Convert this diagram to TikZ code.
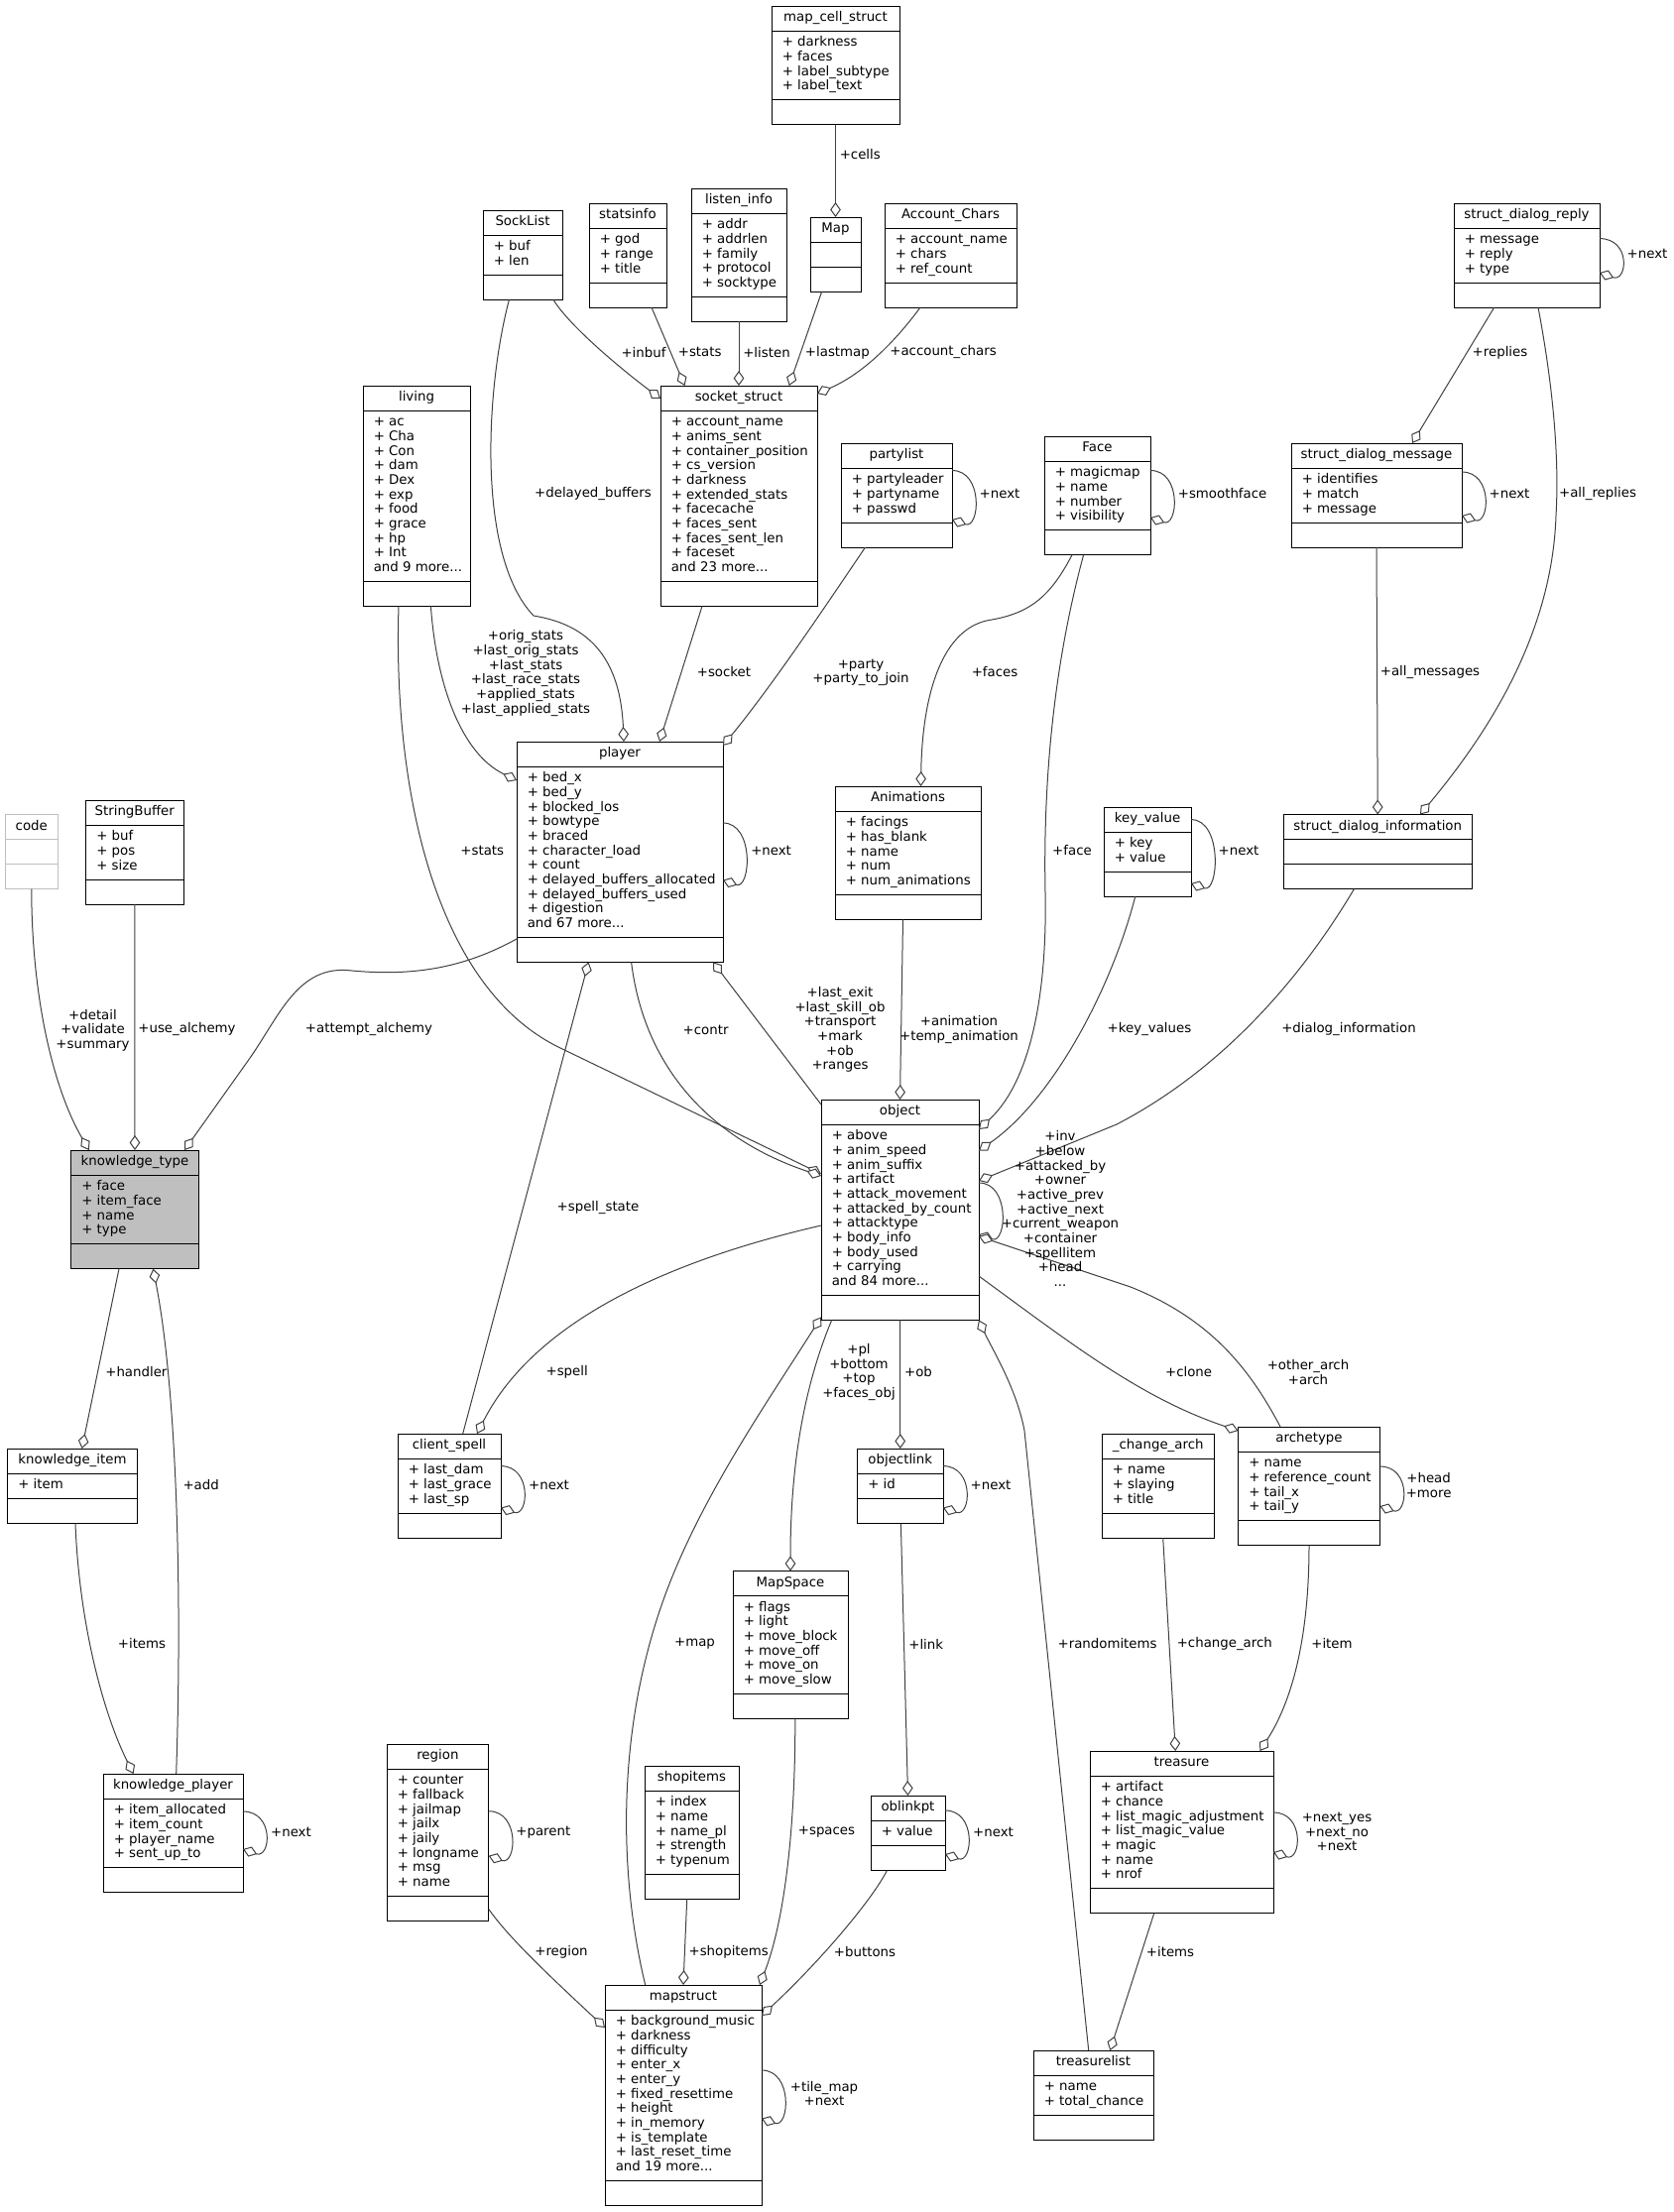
\documentclass[tikz,border=0pt]{standalone}
\usepackage{fontspec}
\setmainfont{DejaVu Sans}
\usepackage[dvipsnames,rgb]{xcolor}
\usepackage{tikz}
\usetikzlibrary{arrows.meta}

\definecolor{edgegray}{HTML}{404040}
\definecolor{grey75}{HTML}{BFBFBF}

\tikzset{
  classframe/.style={draw=black, fill=white, line width=0.75pt, inner sep=0pt, outer sep=0pt},
  classtext/.style={inner sep=0pt, font=\fontsize{10}{11}\selectfont},
  rel/.style={draw=edgegray, line width=0.75pt, -{Diamond[fill=white, length=11.25pt, width=8pt]}},
  lbl/.style={inner sep=0pt, align=center, font=\fontsize{10}{11}\selectfont},
}

\newcommand{\mdots}{...}
% #1 extra style, #2 name, #3 north west corner, #4 width, #5 title, #6 members, #7 number of members
\newcommand{\classbox}[7][]{%
  \pgfmathsetmacro{\attrh}{max(25,#7*14.67+11)}%
  \node[classframe, #1, minimum width=#4*0.75pt, minimum height={(50+\attrh)*0.75pt}, anchor=north west] (#2) at (#3) {};
  \draw[classframe, #1, fill=none] ([shift={(0,25)}]#2.north west) -- ([shift={(0,25)}]#2.north east)
    ([shift={(0,{25+\attrh})}]#2.north west) -- ([shift={(0,{25+\attrh})}]#2.north east);
  \node[classtext, anchor=base] (#2-title) at ([shift={(0,15.7)}]#2.north) {#5};
  \foreach \fld [count=\i] in {#6} {
    \pgfmathsetmacro{\fy}{40.7+(\i-1)*14.67}
    \node[classtext, anchor=base west] (#2-\i) at ([shift={(10.5,\fy)}]#2.north west) {\fld};
  }%
}

\begin{document}
\begin{tikzpicture}[x=0.75pt, y=-0.75pt]
  \useasboundingbox (0,0) rectangle (1688,2231);

  % classes
  \classbox{mapcell}{778,6}{129}{map\_cell\_struct}{+ darkness, + faces, + label\_subtype, + label\_text}{4}
  \classbox{socklist}{487,212}{80}{SockList}{+ buf, + len}{2}
  \classbox{statsinfo}{594,205}{78}{statsinfo}{+ god, + range, + title}{3}
  \classbox{listeninfo}{697,190}{96}{listen\_info}{+ addr, + addrlen, + family, + protocol, + socktype}{5}
  \classbox{map}{817,219}{51}{Map}{}{0}
  \classbox{accchars}{892,205}{133}{Account\_Chars}{+ account\_name, + chars, + ref\_count}{3}
  \classbox{sdreply}{1466,205}{147}{struct\_dialog\_reply}{+ message, + reply, + type}{3}
  \classbox{living}{366,389}{108}{living}{+ ac, + Cha, + Con, + dam, + Dex, + exp, + food, + grace, + hp, + Int, and 9 more\mdots}{11}
  \classbox{socket}{666,389}{158}{socket\_struct}{+ account\_name, + anims\_sent, + container\_position, + cs\_version, + darkness, + extended\_stats, + facecache, + faces\_sent, + faces\_sent\_len, + faceset, and 23 more\mdots}{11}
  \classbox{partylist}{848,447}{112}{partylist}{+ partyleader, + partyname, + passwd}{3}
  \classbox{face}{1053,440}{107}{Face}{+ magicmap, + name, + number, + visibility}{4}
  \classbox{sdmessage}{1302,447}{172}{struct\_dialog\_message}{+ identifies, + match, + message}{3}
  \classbox{player}{521,748}{208}{player}{+ bed\_x, + bed\_y, + blocked\_los, + bowtype, + braced, + character\_load, + count, + delayed\_buffers\_allocated, + delayed\_buffers\_used, + digestion, and 67 more\mdots}{11}
  \classbox[draw=grey75]{code}{5,821.5}{53.5}{code}{}{0}
  \classbox{stringbuffer}{86.5,807}{98.5}{StringBuffer}{+ buf, + pos, + size}{3}
  \classbox{animations}{842,793}{147}{Animations}{+ facings, + has\_blank, + name, + num, + num\_animations}{5}
  \classbox{keyvalue}{1113,814}{88}{key\_value}{+ key, + value}{2}
  \classbox{sdinfo}{1294.5,821.5}{189.5}{struct\_dialog\_information}{}{0}
  \classbox[fill=grey75]{ktype}{71.5,1160}{129}{knowledge\_type}{+ face, + item\_face, + name, + type}{4}
  \classbox{object}{828,1109}{159}{object}{+ above, + anim\_speed, + anim\_suffix, + artifact, + attack\_movement, + attacked\_by\_count, + attacktype, + body\_info, + body\_used, + carrying, and 84 more\mdots}{11}
  \classbox{kitem}{7.5,1461}{131}{knowledge\_item}{+ item}{1}
  \classbox{clientspell}{401,1446}{104}{client\_spell}{+ last\_dam, + last\_grace, + last\_sp}{3}
  \classbox{objectlink}{864.5,1461}{86.5}{objectlink}{+ id}{1}
  \classbox{changearch}{1111,1446}{113.5}{\_change\_arch}{+ name, + slaying, + title}{3}
  \classbox{archetype}{1248.5,1439}{143}{archetype}{+ name, + reference\_count, + tail\_x, + tail\_y}{4}
  \classbox{mapspace}{739,1584.5}{116}{MapSpace}{+ flags, + light, + move\_block, + move\_off, + move\_on, + move\_slow}{6}
  \classbox{region}{390,1759}{102.7}{region}{+ counter, + fallback, + jailmap, + jailx, + jaily, + longname, + msg, + name}{8}
  \classbox{shopitems}{650,1781}{95}{shopitems}{+ index, + name, + name\_pl, + strength, + typenum}{5}
  \classbox{oblinkpt}{878,1811}{75}{oblinkpt}{+ value}{1}
  \classbox{treasure}{1099,1766}{185}{treasure}{+ artifact, + chance, + list\_magic\_adjustment, + list\_magic\_value, + magic, + name, + nrof}{7}
  \classbox{kplayer}{104,1789}{141}{knowledge\_player}{+ item\_allocated, + item\_count, + player\_name, + sent\_up\_to}{4}
  \classbox{mapstruct}{610,2002}{158}{mapstruct}{+ background\_music, + darkness, + difficulty, + enter\_x, + enter\_y, + fixed\_resettime, + height, + in\_memory, + is\_template, + last\_reset\_time, and 19 more\mdots}{11}
  \classbox{treasurelist}{1042,2068}{121}{treasurelist}{+ name, + total\_chance}{2}

  % top row
  \draw[rel] (mapcell.south) -- (map.north);
  \draw[rel] ([shift={(71,0)}]socklist.south west) .. controls (575,330) and (630,375) .. ([shift={(0,13)}]socket.north west);
  \draw[rel] ([shift={(63,0)}]statsinfo.south west) -- ([shift={(24.5,0)}]socket.north west);
  \draw[rel] (listeninfo.south) -- (socket.north);
  \draw[rel] ([shift={(11.7,0)}]map.south west) -- ([shift={(129.7,0)}]socket.north west);
  \draw[rel] ([shift={(36,0)}]accchars.south west) .. controls (900,348) and (868,378) .. ([shift={(0,8)}]socket.north east);
  \draw[rel] ([shift={(40.7,0)}]sdreply.south west) -- ([shift={(122,0)}]sdmessage.north west);
  \draw[rel] ([shift={(0,35.6)}]sdreply.north east) .. controls +(32,0) and +(28,10) .. ([shift={(0,70)}]sdreply.north east);
  \draw[rel] ([shift={(85,0)}]sdreply.south west) .. controls (1568,400) and (1572,470) .. (1569,520)
    .. controls (1565,640) and (1500,740) .. ([shift={(137.5,0)}]sdinfo.north west);
  \draw[rel] (sdmessage.south) -- (sdinfo.north);
  \draw[rel] ([shift={(0,29)}]sdmessage.north east) .. controls +(32,0) and +(28,10) .. ([shift={(0,73)}]sdmessage.north east);
  \draw[rel] ([shift={(0,34.5)}]face.north east) .. controls +(32,0) and +(28,10) .. ([shift={(0,82)}]face.north east);
  \draw[rel] ([shift={(0,27.5)}]partylist.north east) .. controls +(32,0) and +(28,10) .. ([shift={(0,77)}]partylist.north east);

  % into player
  \draw[rel] ([shift={(42,0)}]socket.south west) -- ([shift={(144,0)}]player.north west);
  \draw[rel] ([shift={(24.5,0)}]partylist.south west) .. controls (840,600) and (780,690) .. ([shift={(0,4)}]player.north east);
  \draw[rel] ([shift={(26.4,0)}]socklist.south west) .. controls (490,390) and (480,560) .. (538,621)
    .. controls (580,628) and (625,650) .. ([shift={(108,0)}]player.north west);
  \draw[rel] ([shift={(68.4,0)}]living.south west) .. controls (440,690) and (465,760) .. ([shift={(0,39)}]player.north west);
  \draw[rel] ([shift={(0,82)}]player.north east) .. controls +(32,0) and +(28,10) .. ([shift={(0,139.6)}]player.north east);

  % knowledge
  \draw[rel] ([shift={(0,199)}]player.north west) .. controls (470,975) and (420,985) .. (355,979)
    .. controls (300,972) and (282,1025) .. (250,1070) -- ([shift={(114.5,0)}]ktype.north west);
  \draw[rel] (stringbuffer.south) -- (ktype.north);
  \draw[rel] (code.south) .. controls (32,1010) and (55,1100) .. ([shift={(18.25,0)}]ktype.north west);
  \draw[rel] ([shift={(48.5,0)}]ktype.south west) -- ([shift={(75.1,0)}]kitem.north west);
  \draw[rel] ([shift={(73.7,0)}]kplayer.north west) .. controls (184,1600) and (178,1400) .. ([shift={(82.9,0)}]ktype.south west);
  \draw[rel] ([shift={(68.5,0)}]kitem.south west) .. controls (80,1640) and (105,1730) .. ([shift={(30.6,0)}]kplayer.north west);
  \draw[rel] ([shift={(0,38)}]kplayer.north east) .. controls +(32,0) and +(28,10) .. ([shift={(0,76)}]kplayer.north east);

  % around object
  \draw[rel] ([shift={(36,0)}]living.south west) .. controls (396,800) and (440,995) .. (563,1056) -- ([shift={(0,75)}]object.north west);
  \draw[rel] ([shift={(115.6,0)}]player.south west) .. controls (650,1080) and (720,1150) .. ([shift={(0,77)}]object.north west);
  \draw[rel] ([shift={(0,5)}]object.north west) -- ([shift={(198,0)}]player.south west);
  \draw[rel] ([shift={(65.7,0)}]clientspell.north west) -- ([shift={(72.5,0)}]player.south west);
  \draw[rel] ([shift={(0,127)}]object.north west) .. controls (680,1270) and (540,1330) .. ([shift={(80,0)}]clientspell.north west);
  \draw[rel] ([shift={(0,32.6)}]clientspell.north east) .. controls +(32,0) and +(28,10) .. ([shift={(0,74.6)}]clientspell.north east);
  \draw[rel] ([shift={(68.5,0)}]animations.south west) -- (object.north);
  \draw[rel] ([shift={(28,0)}]face.south west) .. controls (1060,600) and (1040,618) .. (1000,625)
    .. controls (950,632) and (930,700) .. ([shift={(86.5,0)}]animations.north west);
  \draw[rel] ([shift={(39.6,0)}]face.south west) .. controls (1060,680) and (1052,800) .. (1054,900)
    .. controls (1056,1000) and (1040,1090) .. ([shift={(0,30)}]object.north east);
  \draw[rel] ([shift={(31.7,0)}]keyvalue.south west) .. controls (1120,1000) and (1060,1110) .. ([shift={(0,51.5)}]object.north east);
  \draw[rel] ([shift={(0,12.6)}]keyvalue.north east) .. controls +(32,0) and +(28,10) .. ([shift={(0,77)}]keyvalue.north east);
  \draw[rel] ([shift={(71,0)}]sdinfo.south west) .. controls (1310,990) and (1230,1080) .. (1126,1134) -- ([shift={(0,82)}]object.north east);
  \draw[rel] ([shift={(0,84)}]object.north east) .. controls +(32,0) and +(28,10) .. ([shift={(0,136)}]object.north east);
  \draw[rel] ([shift={(0,178)}]object.north east) .. controls (1080,1355) and (1150,1410) .. ([shift={(0,4)}]archetype.north west);
  \draw[rel] ([shift={(42.5,0)}]archetype.north west) .. controls (1260,1380) and (1220,1330) .. (1140,1298) -- ([shift={(0,138)}]object.north east);
  \draw[rel] ([shift={(0,40)}]archetype.north east) .. controls +(32,0) and +(28,10) .. ([shift={(0,80)}]archetype.north east);
  \draw[rel] (object.south) -- (objectlink.north);
  \draw[rel] ([shift={(0,17.6)}]objectlink.north east) .. controls +(32,0) and +(28,10) .. ([shift={(0,59.6)}]objectlink.north east);

  % lower part
  \draw[rel] ([shift={(40.7,0)}]mapstruct.north west) .. controls (626,1900) and (620,1760) .. (665,1625)
    .. controls (700,1520) and (770,1420) .. ([shift={(0,-3)}]object.south west);
  \draw[rel] ([shift={(10.7,0)}]object.south west) .. controls (810,1400) and (797,1480) .. (mapspace.north);
  \draw[rel] ([shift={(62.8,0)}]mapspace.south west) .. controls (802,1850) and (790,1940) .. ([shift={(156,0)}]mapstruct.north west);
  \draw[rel] ([shift={(42.7,0)}]shopitems.south west) -- (mapstruct.north);
  \draw[rel] ([shift={(0,-12)}]region.south east) .. controls (510,1950) and (540,1980) .. ([shift={(0,43)}]mapstruct.north west);
  \draw[rel] ([shift={(0,67.7)}]region.north east) .. controls +(32,0) and +(28,10) .. ([shift={(0,112.7)}]region.north east);
  \draw[rel] ([shift={(16.3,0)}]oblinkpt.south west) .. controls (880,1915) and (830,1975) .. ([shift={(0,31)}]mapstruct.north east);
  \draw[rel] ([shift={(43.9,0)}]objectlink.south west) -- (oblinkpt.north);
  \draw[rel] ([shift={(0,15)}]oblinkpt.north east) .. controls +(32,0) and +(28,10) .. ([shift={(0,59)}]oblinkpt.north east);
  \draw[rel] ([shift={(0,86)}]mapstruct.north east) .. controls +(32,0) and +(28,10) .. ([shift={(0,134.7)}]mapstruct.north east);
  \draw[rel] ([shift={(55.7,0)}]treasurelist.north west) -- (1033,1443) .. controls (1025,1400) and (1000,1360) .. (object.south east);
  \draw[rel] ([shift={(61.7,0)}]changearch.south west) -- ([shift={(86.3,0)}]treasure.north west);
  \draw[rel] (archetype.south) .. controls (1320,1660) and (1300,1720) .. ([shift={(171.4,0)}]treasure.north west);
  \draw[rel] ([shift={(0,62)}]treasure.north east) .. controls +(32,0) and +(28,10) .. ([shift={(0,102)}]treasure.north east);
  \draw[rel] ([shift={(64.7,0)}]treasure.south west) -- ([shift={(77.3,0)}]treasurelist.north west);

  % labels
  \node[lbl] (lcells) at (867.3,156) {+cells};
  \node[lbl] (linbuf) at (649,355.4) {+inbuf};
  \node[lbl] (lstats1) at (705.7,355.4) {+stats};
  \node[lbl] (llisten) at (773,355.4) {+listen};
  \node[lbl] (llastmap) at (844.4,355.4) {+lastmap};
  \node[lbl] (laccount) at (951,355.4) {+account\_chars};
  \node[lbl] (lreplies) at (1512.5,355.4) {+replies};
  \node[lbl] (lnext1) at (1661,256.2) {+next};
  \node[lbl] (lallrep) at (1611,498) {+all\_replies};
  \node[lbl] (lallmsg) at (1442,678) {+all\_messages};
  \node[lbl] (lnext2) at (1522,498) {+next};
  \node[lbl] (lsmooth) at (1232.6,498) {+smoothface};
  \node[lbl] (lnext3) at (1008,498) {+next};
  \node[lbl] (ldelayed) at (598,498) {+delayed\_buffers};
  \node[lbl] (lsocket) at (730,678) {+socket};
  \node[lbl] (lparty) at (868,678.5) {+party\\+party\_to\_join};
  \node[lbl] (lfaces) at (1003,678) {+faces};
  \node[lbl] (lorig) at (530,679) {+orig\_stats\\+last\_orig\_stats\\+last\_stats\\+last\_race\_stats\\+applied\_stats\\+last\_applied\_stats};
  \node[lbl] (lstats2) at (486.3,858) {+stats};
  \node[lbl] (lnext4) at (777.6,858) {+next};
  \node[lbl] (lface) at (1081,858) {+face};
  \node[lbl] (lnext5) at (1249,858) {+next};
  \node[lbl] (ldetail) at (93.5,1039) {+detail\\+validate\\+summary};
  \node[lbl] (luse) at (188.5,1038.4) {+use\_alchemy};
  \node[lbl] (lattempt) at (372,1038.4) {+attempt\_alchemy};
  \node[lbl] (lcontr) at (711.6,1038.4) {+contr};
  \node[lbl] (llast) at (847,1038.4) {+last\_exit\\+last\_skill\_ob\\+transport\\+mark\\+ob\\+ranges};
  \node[lbl] (lanim) at (967,1038.4) {+animation\\+temp\_animation};
  \node[lbl] (lkeyval) at (1159,1038.4) {+key\_values};
  \node[lbl] (ldialog) at (1360,1038.4) {+dialog\_information};
  \node[lbl] (linv) at (1069,1219) {+inv\\+below\\+attacked\_by\\+owner\\+active\_prev\\+active\_next\\+current\_weapon\\+container\\+spellitem\\+head\\...};
  \node[lbl] (lspellst) at (603,1218) {+spell\_state};
  \node[lbl] (lhandler) at (137.4,1384) {+handler};
  \node[lbl] (lspell) at (571.7,1384) {+spell};
  \node[lbl] (lpl) at (866,1384) {+pl\\+bottom\\+top\\+faces\_obj};
  \node[lbl] (lob) at (926,1384) {+ob};
  \node[lbl] (lclone) at (1198.6,1384) {+clone};
  \node[lbl] (lother) at (1319,1384) {+other\_arch\\+arch};
  \node[lbl] (ladd) at (202.7,1498) {+add};
  \node[lbl] (lnext6) at (553.5,1498) {+next};
  \node[lbl] (lnext7) at (999,1498) {+next};
  \node[lbl] (lhead) at (1440.6,1498) {+head\\+more};
  \node[lbl] (litems1) at (143,1658) {+items};
  \node[lbl] (lmap) at (700.5,1658) {+map};
  \node[lbl] (llink) at (933.7,1658) {+link};
  \node[lbl] (lrandom) at (1116.6,1658) {+randomitems};
  \node[lbl] (lchange) at (1234.8,1658) {+change\_arch};
  \node[lbl] (litem) at (1343,1658) {+item};
  \node[lbl] (lnext8) at (293.5,1847.4) {+next};
  \node[lbl] (lparent) at (547.8,1847.7) {+parent};
  \node[lbl] (lspaces) at (833.5,1847.7) {+spaces};
  \node[lbl] (lnext9) at (1001.5,1847.7) {+next};
  \node[lbl] (lnextyes) at (1348,1847.4) {+next\_yes\\+next\_no\\+next};
  \node[lbl] (lregion) at (566,1968.7) {+region};
  \node[lbl] (lshop) at (734.7,1968.7) {+shopitems};
  \node[lbl] (lbuttons) at (872,1968.7) {+buttons};
  \node[lbl] (litems2) at (1180,1968.7) {+items};
  \node[lbl] (ltile) at (831,2111.5) {+tile\_map\\+next};
\end{tikzpicture}
\end{document}
